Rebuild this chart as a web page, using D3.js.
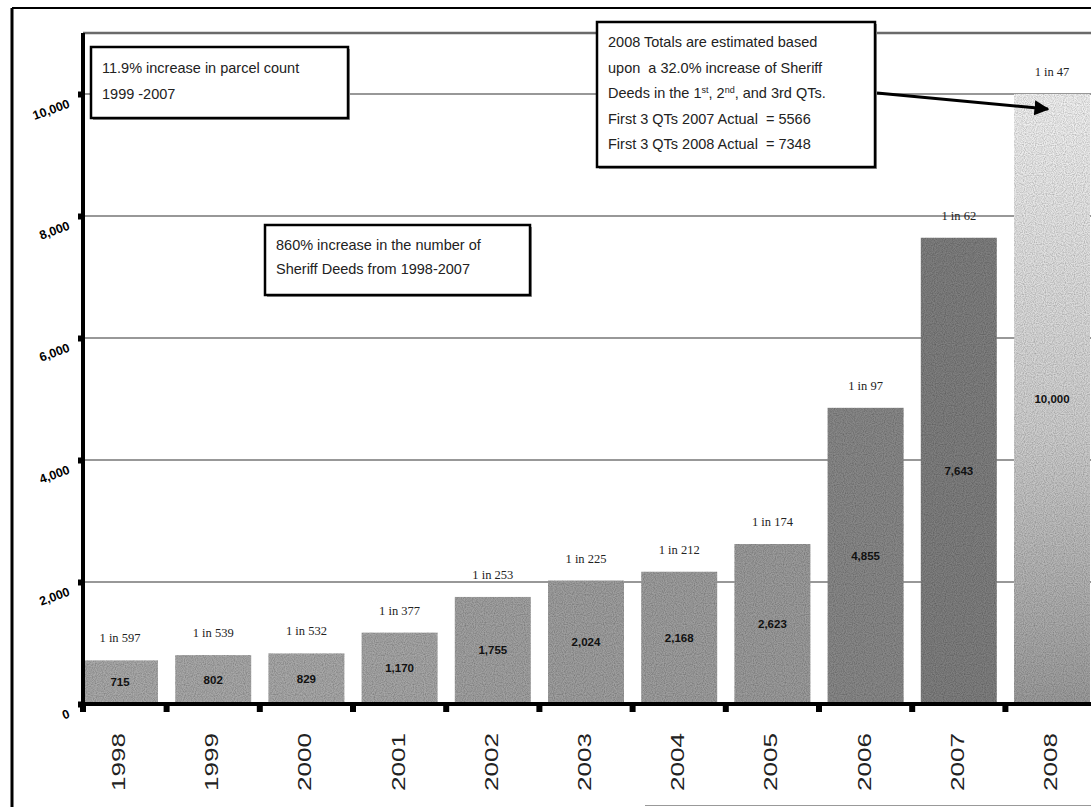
<!DOCTYPE html>
<html lang="en">
<head>
<meta charset="UTF-8">
<title>Sheriff Deeds 1998-2008</title>
<script src="https://d3js.org/d3.v7.min.js"></script>
<style>
  body { margin: 0; background: #fff; }
  svg { display: block; }
  .note text { font-family: "Liberation Sans", Arial, sans-serif; font-size: 14.5px; fill: #222; white-space: pre; }
  .ratio { font-family: "Liberation Serif", "Times New Roman", serif; font-size: 12.5px; fill: #222; }
  .val { font-family: "Liberation Sans", Arial, sans-serif; font-size: 11.5px; font-weight: bold; fill: #111; }
</style>
</head>
<body>
<svg id="chart" width="1091" height="807"></svg>
<script>
// chart values
const years = ["1998", "1999", "2000", "2001", "2002", "2003", "2004", "2005", "2006", "2007", "2008"];
const deeds = [715, 802, 829, 1170, 1755, 2024, 2168, 2623, 4855, 7643, 10000];
const ratios = ["1 in 597", "1 in 539", "1 in 532", "1 in 377", "1 in 253", "1 in 225",
                "1 in 212", "1 in 174", "1 in 97", "1 in 62", "1 in 47"];
const yTicks = [0, 2000, 4000, 6000, 8000, 10000];
const yMax = 11000;
const estimatedYear = "2008";

const noteParcel = ["11.9% increase in parcel count", "1999 -2007"];
const noteDeeds = ["860% increase in the number of", "Sheriff Deeds from 1998-2007"];
const noteEstimate = [
    [["2008 Totals are estimated based", false]],
    [["upon  a 32.0% increase of Sheriff", false]],
    [["Deeds in the 1", false], ["st", true], [", 2", false], ["nd", true], [", and 3rd QTs.", false]],
    [["First 3 QTs 2007 Actual  = 5566", false]],
    [["First 3 QTs 2008 Actual  = 7348", false]]
];

const width = 1091, height = 807;
const axisX = 83;
const svg = d3.select("#chart");

const x = d3.scaleBand().domain(years).range([73.4, 1098.6]).paddingInner(0.185).paddingOuter(0.0925);
const y = d3.scaleLinear().domain([0, yMax]).range([704, 33]);

// bar greys get darker with the count, 2008 is a fade
const grey = d3.scaleLinear().domain([700, 2600, 4800, 7700]).range(["#a9a9a9", "#9b9b9b", "#888", "#7f7f7f"]);

const defs = svg.append("defs");
const fade = defs.append("linearGradient").attr("id", "fade")
    .attr("x1", 0).attr("y1", 0).attr("x2", 0).attr("y2", 1);
fade.append("stop").attr("offset", "0%").attr("stop-color", "#f2f2f2");
fade.append("stop").attr("offset", "55%").attr("stop-color", "#cfcfcf");
fade.append("stop").attr("offset", "100%").attr("stop-color", "#9c9c9c");

// scan-like grain on the bars
const grain = defs.append("filter").attr("id", "grain").attr("x", 0).attr("y", 0).attr("width", 1).attr("height", 1);
grain.append("feTurbulence").attr("type", "fractalNoise").attr("baseFrequency", 0.9).attr("numOctaves", 1).attr("result", "n");
grain.append("feColorMatrix").attr("in", "n").attr("type", "matrix")
    .attr("values", "0 0 0 0 0  0 0 0 0 0  0 0 0 0 0  0 0 0 0.9 -0.3").attr("result", "a");
grain.append("feComposite").attr("in", "a").attr("in2", "SourceGraphic").attr("operator", "in").attr("result", "d");
grain.append("feMerge").selectAll("feMergeNode").data(["SourceGraphic", "d"]).enter()
    .append("feMergeNode").attr("in", d => d);

const marker = defs.append("marker").attr("id", "head")
    .attr("viewBox", "0 0 10 10").attr("refX", 9).attr("refY", 5)
    .attr("markerWidth", 5).attr("markerHeight", 5).attr("orient", "auto");
marker.append("path").attr("d", "M0,0 L10,5 L0,10 z").attr("fill", "#000");

// outer frame
svg.append("line").attr("x1", 12).attr("x2", 12).attr("y1", 8).attr("y2", height).attr("stroke", "#000").attr("stroke-width", 3);
svg.append("line").attr("x1", 12).attr("x2", width).attr("y1", 8).attr("y2", 8).attr("stroke", "#000").attr("stroke-width", 2);
svg.append("line").attr("x1", 645).attr("x2", width).attr("y1", 805.5).attr("y2", 805.5).attr("stroke", "#999").attr("stroke-width", 1);

// gridlines
svg.append("g").selectAll("line")
    .data(yTicks.filter(d => d > 0))
    .enter().append("line")
    .attr("x1", axisX).attr("x2", width)
    .attr("y1", d => y(d)).attr("y2", d => y(d))
    .attr("stroke", "#333").attr("stroke-width", 1.2);
svg.append("line")
    .attr("x1", axisX).attr("x2", width)
    .attr("y1", y(yMax)).attr("y2", y(yMax))
    .attr("stroke", "#6a6a6a").attr("stroke-width", 2.5);

// bars
svg.append("g").selectAll("rect")
    .data(years)
    .enter().append("rect")
    .attr("x", d => x(d))
    .attr("y", (d, i) => y(deeds[i]))
    .attr("width", x.bandwidth())
    .attr("height", (d, i) => y(0) - y(deeds[i]))
    .attr("fill", (d, i) => d === estimatedYear ? "url(#fade)" : grey(deeds[i]))
    .attr("filter", "url(#grain)");

// value labels in the bars
svg.append("g").selectAll("text")
    .data(years)
    .enter().append("text")
    .attr("class", "val")
    .attr("x", d => x(d) + x.bandwidth() / 2)
    .attr("y", (d, i) => (y(0) + y(deeds[i])) / 2 + 4)
    .attr("text-anchor", "middle")
    .text((d, i) => d3.format(",")(deeds[i]));

// "1 in N" labels above the bars
svg.append("g").selectAll("text")
    .data(years)
    .enter().append("text")
    .attr("class", "ratio")
    .attr("x", d => x(d) + x.bandwidth() / 2)
    .attr("y", (d, i) => y(deeds[i]) - 18)
    .attr("text-anchor", "middle")
    .text((d, i) => ratios[i]);

// y axis
const yAxis = svg.append("g")
    .attr("transform", `translate(${axisX},0)`)
    .call(d3.axisLeft(y).tickValues(yTicks).tickFormat(d3.format(",")).tickSize(5).tickPadding(0));
yAxis.select(".domain").attr("stroke", "#000").attr("stroke-width", 4)
    .attr("d", `M0,${y(yMax)}V${y(0) + 2}`);
yAxis.selectAll(".tick line").attr("stroke", "#000").attr("stroke-width", 6);
yAxis.selectAll(".tick text")
    .attr("x", -16).attr("dy", "0.6em")
    .attr("transform", "rotate(-20)")
    .style("font-family", "'Liberation Sans', Arial, sans-serif")
    .style("font-size", "12.5px").style("font-weight", "bold").attr("fill", "#000");

// x axis
const xAxis = svg.append("g")
    .attr("transform", `translate(0,${y(0)})`)
    .call(d3.axisBottom(x).tickSize(0).tickPadding(0));
xAxis.select(".domain").attr("stroke", "#000").attr("stroke-width", 4)
    .attr("d", `M${axisX - 2},0H${width}`);
xAxis.selectAll(".tick text")
    .attr("y", 0).attr("dy", 0)
    .attr("text-anchor", "middle")
    .attr("transform", "translate(5,58) rotate(-90) scale(1.45,1)")
    .style("font-family", "'Liberation Sans', Arial, sans-serif")
    .style("font-size", "18px").attr("fill", "#222");

// small tick blocks between the categories
const gap = x.step() * x.paddingInner();
svg.append("g").selectAll("rect")
    .data(years)
    .enter().append("rect")
    .attr("x", (d, i) => (i === 0 ? axisX : x(d) - gap / 2) - 3)
    .attr("y", y(0))
    .attr("width", 6).attr("height", 8)
    .attr("fill", "#000");

// notes
function note(x0, y0, w, h, lines, lh, dy) {
    const g = svg.append("g").attr("class", "note");
    g.append("rect").attr("x", x0 + 2).attr("y", y0 + 2).attr("width", w).attr("height", h).attr("fill", "#999");
    g.append("rect").attr("x", x0).attr("y", y0).attr("width", w).attr("height", h)
        .attr("fill", "#fff").attr("stroke", "#000").attr("stroke-width", 2.5);
    const t = g.selectAll("text").data(lines).enter().append("text")
        .attr("x", x0 + 11).attr("y", (d, i) => y0 + dy + i * lh);
    t.each(function (d) {
        const el = d3.select(this);
        const parts = typeof d === "string" ? [[d, false]] : d;
        parts.forEach(p => {
            el.append("tspan").text(p[0])
                .attr("font-size", p[1] ? "9px" : null)
                .attr("baseline-shift", p[1] ? "super" : null);
        });
    });
    return g;
}
note(91, 47, 257, 71, noteParcel, 26, 26);
note(265, 225, 265, 70, noteDeeds, 24, 25);
note(597, 22, 278, 145, noteEstimate, 25.5, 25);

svg.append("line")
    .attr("x1", 877).attr("y1", 93).attr("x2", 1048).attr("y2", 109)
    .attr("stroke", "#000").attr("stroke-width", 3)
    .attr("marker-end", "url(#head)");
</script>
</body>
</html>
